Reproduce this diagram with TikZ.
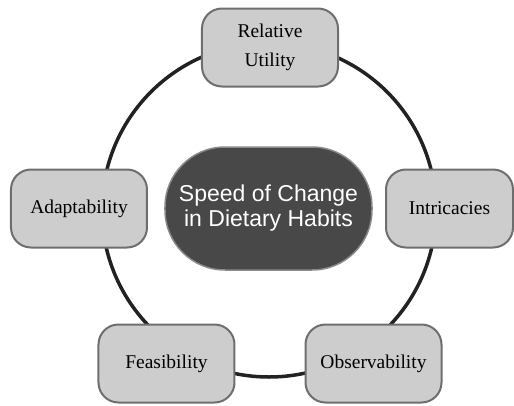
\documentclass[tikz,border=0pt]{standalone}
\usepackage{fontspec}
\setmainfont{Liberation Serif}
\setsansfont{Liberation Sans}
\usetikzlibrary{positioning}

\definecolor{boxfill}{HTML}{CDCDCD}
\definecolor{boxline}{HTML}{6E6E6E}
\definecolor{hubfill}{HTML}{484848}
\definecolor{ringline}{HTML}{222222}

\begin{document}
\begin{tikzpicture}[x=1pt, y=1pt, on grid, auto]
    \tikzstyle{factor}=[draw=boxline, fill=boxfill, line width=2pt, rounded corners=20pt,
        minimum width=136pt, minimum height=78pt, align=center,
        font=\fontsize{19.5}{29}\selectfont]
    \tikzstyle{hub}=[draw=boxline!80, fill=hubfill, line width=1.5pt, rounded corners=60pt,
        minimum width=207pt, minimum height=123pt, align=center, text=white,
        font=\sffamily\fontsize{23}{25}\selectfont]

    \useasboundingbox (-268.5,-196.5) rectangle (245.5,208.5);

    % ring behind the factors
    \draw[ringline, line width=3.5pt] (0.5,-1.5) circle (167);

    \node[hub] (speed) at (0,0) {Speed of Change\\in Dietary Habits};
    \node[factor] [above right = 161pt and 1.5pt of speed] (utility) {Relative\\Utility};
    \node[factor] [left = 189.5pt of speed] (adapt) {Adaptability};
    \node[factor, minimum width=127pt] [right = 181pt of speed] (intric) {Intricacies};
    \node[factor] [below left = 155pt and 102pt of speed] (feasib) {Feasibility};
    \node[factor] [below right = 155pt and 105pt of speed] (observ) {Observability};
\end{tikzpicture}
\end{document}
